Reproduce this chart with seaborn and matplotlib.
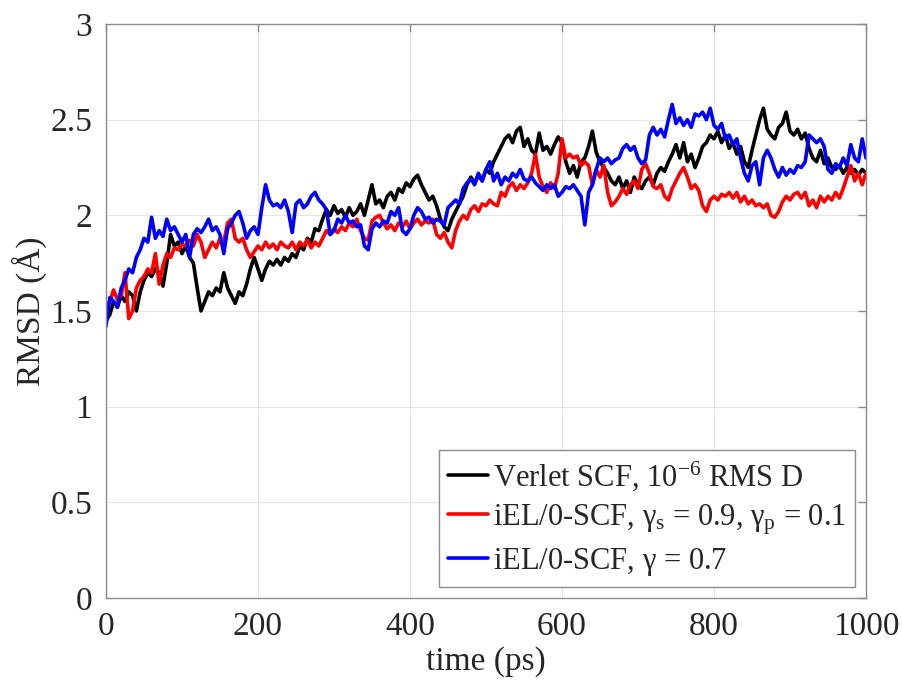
"""RMSD vs time for three SCF schemes (seaborn + matplotlib)"""
import numpy as np
import pandas as pd
import matplotlib
matplotlib.use("Agg")
import matplotlib.pyplot as plt
import seaborn as sns

# time grid, 5 ps steps
time_ps = np.arange(0, 1001, 5)

verlet = [
    1.45, 1.48, 1.55, 1.52, 1.58, 1.55, 1.60, 1.58, 1.50, 1.60, 1.66, 1.70, 1.68, 1.72, 1.70, 1.63, 1.75, 1.90, 1.84, 1.86,
    1.80, 1.84, 1.78, 1.75, 1.62, 1.50, 1.55, 1.60, 1.58, 1.62, 1.60, 1.70, 1.62, 1.58, 1.54, 1.60, 1.58, 1.64, 1.72, 1.78,
    1.72, 1.66, 1.72, 1.76, 1.74, 1.77, 1.74, 1.78, 1.76, 1.80, 1.78, 1.84, 1.82, 1.88, 1.86, 1.93, 1.92, 1.98, 2.03, 2.00,
    2.05, 2.01, 2.03, 1.99, 2.04, 2.00, 2.02, 2.06, 2.00, 2.08, 2.16, 2.06, 2.08, 2.04, 2.10, 2.12, 2.08, 2.14, 2.12, 2.17,
    2.15, 2.19, 2.21, 2.16, 2.12, 2.08, 2.10, 2.05, 1.98, 1.94, 1.92, 1.98, 2.02, 2.06, 2.10, 2.16, 2.20, 2.17, 2.21, 2.18,
    2.24, 2.22, 2.28, 2.32, 2.36, 2.40, 2.42, 2.38, 2.44, 2.46, 2.36, 2.40, 2.34, 2.32, 2.43, 2.34, 2.36, 2.32, 2.37, 2.41,
    2.38, 2.28, 2.22, 2.26, 2.20, 2.28, 2.30, 2.36, 2.44, 2.33, 2.28, 2.25, 2.22, 2.18, 2.16, 2.20, 2.14, 2.18, 2.12, 2.20,
    2.16, 2.14, 2.18, 2.20, 2.16, 2.22, 2.25, 2.23, 2.28, 2.32, 2.37, 2.30, 2.38, 2.28, 2.32, 2.25, 2.30, 2.36, 2.38, 2.42,
    2.40, 2.44, 2.38, 2.42, 2.35, 2.38, 2.32, 2.36, 2.28, 2.25, 2.34, 2.42, 2.50, 2.56, 2.45, 2.42, 2.40, 2.46, 2.48, 2.54,
    2.44, 2.42, 2.45, 2.40, 2.43, 2.35, 2.30, 2.28, 2.34, 2.27, 2.30, 2.25, 2.24, 2.26, 2.22, 2.25, 2.22, 2.24, 2.21, 2.24,
    2.22,
]

iel_s09 = [
    1.52, 1.55, 1.61, 1.56, 1.58, 1.70, 1.46, 1.50, 1.62, 1.66, 1.68, 1.72, 1.70, 1.80, 1.64, 1.74, 1.80, 1.78, 1.83, 1.82,
    1.85, 1.84, 1.87, 1.84, 1.90, 1.86, 1.78, 1.82, 1.86, 1.83, 1.88, 1.86, 1.96, 1.98, 1.88, 1.86, 1.88, 1.82, 1.78, 1.81,
    1.84, 1.82, 1.86, 1.83, 1.85, 1.82, 1.86, 1.84, 1.83, 1.86, 1.82, 1.86, 1.84, 1.87, 1.83, 1.86, 1.84, 1.88, 1.92, 1.90,
    1.93, 1.91, 1.94, 1.92, 1.96, 1.94, 1.98, 1.92, 1.88, 1.87, 1.97, 1.99, 2.00, 1.96, 1.93, 1.95, 1.92, 1.96, 1.94, 1.97,
    1.93, 1.96, 1.98, 1.95, 1.97, 1.96, 1.98, 1.90, 1.88, 1.91, 1.86, 1.83, 1.92, 1.97, 2.00, 1.98, 2.03, 2.05, 2.02, 2.06,
    2.05, 2.08, 2.06, 2.05, 2.12, 2.10, 2.15, 2.17, 2.13, 2.16, 2.14, 2.17, 2.22, 2.32, 2.20, 2.15, 2.12, 2.17, 2.14, 2.22,
    2.40, 2.30, 2.32, 2.30, 2.31, 2.26, 2.28, 2.26, 2.16, 2.24, 2.20, 2.26, 2.12, 2.05, 2.07, 2.10, 2.14, 2.11, 2.16, 2.18,
    2.14, 2.24, 2.27, 2.22, 2.15, 2.14, 2.16, 2.10, 2.08, 2.14, 2.18, 2.22, 2.25, 2.20, 2.14, 2.16, 2.13, 2.05, 2.02, 2.08,
    2.10, 2.08, 2.11, 2.10, 2.12, 2.09, 2.12, 2.07, 2.10, 2.06, 2.08, 2.05, 2.06, 2.04, 2.06, 2.00, 1.99, 2.02, 2.07, 2.10,
    2.08, 2.11, 2.12, 2.09, 2.12, 2.05, 2.08, 2.04, 2.10, 2.07, 2.10, 2.08, 2.12, 2.09, 2.14, 2.20, 2.26, 2.18, 2.22, 2.16,
    2.22,
]

iel_g07 = [
    1.42, 1.57, 1.55, 1.52, 1.62, 1.66, 1.72, 1.70, 1.78, 1.82, 1.88, 1.86, 1.99, 1.88, 1.92, 1.89, 1.98, 1.92, 1.94, 1.90,
    1.86, 1.90, 1.78, 1.90, 1.93, 1.91, 1.94, 1.98, 1.92, 1.94, 1.90, 1.80, 1.93, 1.96, 2.00, 2.02, 1.96, 1.88, 1.92, 1.94,
    1.90, 2.04, 2.16, 2.08, 2.05, 2.06, 2.04, 2.08, 2.02, 1.91, 2.06, 2.08, 2.04, 2.06, 2.10, 2.12, 2.08, 2.06, 2.03, 1.90,
    1.92, 1.98, 1.96, 2.00, 1.96, 1.97, 1.94, 1.95, 1.84, 1.82, 1.93, 1.96, 1.94, 1.97, 1.96, 2.02, 2.00, 2.04, 1.92, 1.90,
    1.93, 2.00, 2.04, 2.02, 1.98, 1.99, 1.96, 1.98, 1.97, 1.95, 2.04, 2.06, 2.08, 2.06, 2.14, 2.17, 2.19, 2.16, 2.22, 2.18,
    2.24, 2.28, 2.18, 2.22, 2.16, 2.20, 2.18, 2.22, 2.20, 2.24, 2.19, 2.18, 2.20, 2.17, 2.15, 2.13, 2.16, 2.14, 2.16, 2.10,
    2.12, 2.15, 2.14, 2.16, 2.13, 2.10, 1.95, 2.12, 2.16, 2.24, 2.30, 2.28, 2.30, 2.27, 2.29, 2.30, 2.35, 2.37, 2.34, 2.36,
    2.30, 2.27, 2.29, 2.42, 2.46, 2.42, 2.45, 2.41, 2.50, 2.58, 2.48, 2.51, 2.47, 2.50, 2.46, 2.53, 2.52, 2.54, 2.50, 2.56,
    2.47, 2.45, 2.48, 2.40, 2.42, 2.37, 2.40, 2.30, 2.22, 2.18, 2.26, 2.28, 2.16, 2.30, 2.34, 2.30, 2.24, 2.20, 2.25, 2.21,
    2.24, 2.22, 2.26, 2.25, 2.28, 2.42, 2.40, 2.38, 2.40, 2.36, 2.24, 2.22, 2.27, 2.25, 2.30, 2.26, 2.37, 2.30, 2.28, 2.40,
    2.30,
]

labels = [
    r"Verlet SCF, 10$^{-6}$ RMS D",
    r"iEL/0-SCF, $\gamma_\mathrm{s}$ = 0.9, $\gamma_\mathrm{p}$ = 0.1",
    r"iEL/0-SCF, $\gamma$ = 0.7",
]
colors = ["#000000", "#ff0000", "#0000ff"]


def main():
    sns.set_style("white")
    plt.rcParams["font.family"] = ["Liberation Serif", "DejaVu Serif"]
    plt.rcParams["mathtext.fontset"] = "custom"
    plt.rcParams["mathtext.rm"] = "Liberation Serif"
    plt.rcParams["mathtext.it"] = "Liberation Serif"

    fig = plt.figure(figsize=(9.02, 6.88), dpi=100)
    ax = fig.add_axes([0.1175, 0.131, 0.8426, 0.834])

    for vals, lab, col in zip([verlet, iel_s09, iel_g07], labels, colors):
        df = pd.DataFrame({"time": time_ps, "rmsd": vals})
        sns.lineplot(data=df, x="time", y="rmsd", color=col, lw=2.6,
                     label=lab, ax=ax, estimator=None)

    ax.set_xlim(0, 1000)
    ax.set_ylim(0, 3)
    ax.set_xticks([0, 200, 400, 600, 800, 1000])
    ax.set_yticks([0, 0.5, 1, 1.5, 2, 2.5, 3])
    ax.set_yticklabels(["0", "0.5", "1", "1.5", "2", "2.5", "3"])
    ax.grid(True, color="#e6e6e6", lw=0.8)
    ax.set_axisbelow(True)
    for sp in ax.spines.values():
        sp.set_color("#8c8c8c")
        sp.set_linewidth(1.0)
    ax.tick_params(direction="in", length=6, width=1, color="#8c8c8c",
                   labelsize=24, labelcolor="#262626", top=True, right=True)
    ax.tick_params(axis="x", pad=10)
    ax.tick_params(axis="y", pad=10)
    ax.set_xlabel("time (ps)", fontsize=24, color="#262626", labelpad=3)
    ax.set_ylabel("RMSD (Å)", fontsize=24, color="#262626", labelpad=2)

    leg = ax.legend(loc="lower right", fontsize=22, handlelength=1.3,
                    handletextpad=0.15, borderpad=0.3, labelspacing=0.3,
                    borderaxespad=0, fancybox=False, framealpha=1,
                    bbox_to_anchor=(0.9855, 0.019))
    leg.get_frame().set_edgecolor("#8c8c8c")
    leg.get_frame().set_linewidth(1.0)

    fig.savefig("out.png", dpi=100)


if __name__ == "__main__":
    main()
